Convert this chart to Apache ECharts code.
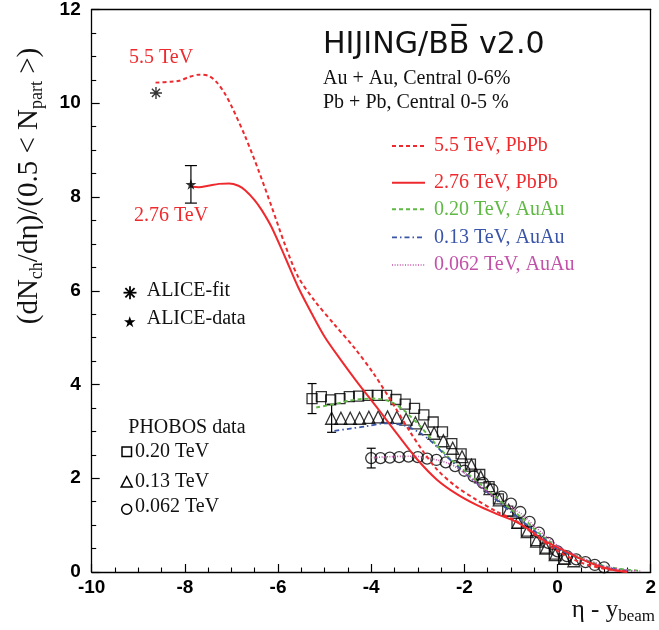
<!DOCTYPE html>
<html><head><meta charset="utf-8">
<script src="https://cdn.jsdelivr.net/npm/echarts@6/dist/echarts.min.js"></script>
<style>html,body{margin:0;padding:0;background:#fff}#c{width:659px;height:630px}</style>
</head><body><div id="c"></div>
<script>
// HIJING/BB̄ v2.0 predictions: [eta - y_beam, (dNch/deta)/(0.5<Npart>)]
const pbpb550 = [[-8.63,10.44],[-8.3,10.46],[-8.12,10.48],[-7.91,10.56],[-7.70,10.61],[-7.48,10.58],[-7.31,10.44],[-7.15,10.22],[-6.99,9.92],[-6.70,9.28],[-6.42,8.57],[-6.14,7.80],[-5.85,6.98],[-5.57,6.30],[-5.21,5.78],[-4.79,5.28],[-4.36,4.78],[-3.94,4.22],[-3.51,3.55],[-3.16,2.98],[-2.87,2.55],[-2.59,2.19],[-2.2,1.84],[-1.74,1.54],[-1.31,1.29],[-0.89,1.09],[-0.5,0.8],[0,0.45],[0.5,0.2],[1.0,0.07],[1.5,0.01]];
const pbpb276 = [[-7.86,8.22],[-7.7,8.21],[-7.5,8.24],[-7.27,8.28],[-7.05,8.29],[-6.85,8.24],[-6.70,8.14],[-6.5,7.93],[-6.35,7.72],[-6.14,7.36],[-5.85,6.72],[-5.57,6.08],[-5.28,5.52],[-5.0,5.02],[-4.65,4.52],[-4.33,4.09],[-3.87,3.50],[-3.44,2.94],[-3.01,2.40],[-2.59,1.97],[-2.16,1.66],[-1.74,1.43],[-1.31,1.24],[-0.89,1.07],[-0.60,0.90],[-0.3,0.68],[0.11,0.47],[0.5,0.28],[0.82,0.15],[1.17,0.05],[1.5,0.0]];
const auau200 = [[-5.18,3.51],[-4.8,3.58],[-4.5,3.65],[-4.2,3.69],[-3.94,3.70],[-3.58,3.63],[-3.30,3.45],[-2.94,3.10],[-2.59,2.70],[-2.31,2.42],[-1.88,2.06],[-1.45,1.70],[-1.03,1.36],[-0.67,1.08],[-0.39,0.82],[0.0,0.53],[0.32,0.37],[0.7,0.22],[1.03,0.12],[1.4,0.06],[1.73,0.03]];
const auau130 = [[-4.79,3.01],[-4.45,3.06],[-4.15,3.10],[-3.72,3.17],[-3.30,3.13],[-2.94,2.96],[-2.66,2.74],[-2.38,2.46],[-2.0,2.12],[-1.6,1.78],[-1.2,1.44],[-0.8,1.12],[-0.4,0.80],[0.0,0.50],[0.4,0.32],[0.8,0.17],[1.2,0.07],[1.6,0.02]];
const auau62 = [[-4.0,2.44],[-3.6,2.46],[-3.2,2.47],[-2.94,2.46],[-2.59,2.39],[-2.38,2.33],[-2.2,2.25],[-1.95,2.07],[-1.60,1.78],[-1.17,1.48],[-0.78,1.24],[-0.5,0.98],[-0.18,0.70],[0.1,0.50],[0.46,0.33],[0.75,0.22],[1.03,0.12],[1.4,0.05],[1.81,0.02]];

// PHOBOS measurements
const phobos200 = [[-5.27,3.70],[-5.07,3.74],[-4.87,3.67],[-4.67,3.70],[-4.47,3.74],[-4.27,3.75],[-4.07,3.77],[-3.87,3.77],[-3.67,3.77],[-3.47,3.68],[-3.27,3.58],[-3.07,3.49],[-2.87,3.35],[-2.67,3.20],[-2.47,2.99],[-2.27,2.74],[-2.07,2.52],[-1.87,2.30],[-1.67,2.08],[-1.47,1.82],[-1.27,1.56],[-1.07,1.30],[-0.87,1.04],[-0.67,0.87],[-0.47,0.67],[-0.27,0.51],[-0.07,0.38],[0.13,0.28]];
const phobos130 = [[-4.85,3.28],[-4.65,3.28],[-4.45,3.28],[-4.25,3.28],[-4.05,3.30],[-3.85,3.31],[-3.65,3.31],[-3.45,3.30],[-3.25,3.26],[-3.05,3.18],[-2.85,3.06],[-2.65,2.96],[-2.45,2.80],[-2.25,2.64],[-2.05,2.46],[-1.85,2.28],[-1.65,2.03],[-1.45,1.78],[-1.25,1.54],[-1.05,1.32],[-0.85,1.06],[-0.65,0.86],[-0.45,0.66],[-0.25,0.51],[-0.05,0.37],[0.15,0.29],[0.35,0.24]];
const phobos62 = [[-4.0,2.43],[-3.8,2.43],[-3.6,2.44],[-3.4,2.45],[-3.2,2.46],[-3.0,2.45],[-2.8,2.42],[-2.6,2.39],[-2.4,2.34],[-2.2,2.26],[-2.0,2.16],[-1.8,2.04],[-1.6,1.90],[-1.4,1.76],[-1.2,1.61],[-1.0,1.46],[-0.8,1.28],[-0.6,1.07],[-0.4,0.84],[-0.2,0.62],[0.0,0.44],[0.2,0.34],[0.4,0.27],[0.6,0.21],[0.8,0.15],[1.0,0.10]];

// ALICE
const aliceFit = [[-8.62,10.22]];
const aliceData = [[-7.87,8.27]];

// error bars: [x, y, half-width]
const errorBars = [[-5.27,3.70,0.32],[-4.85,3.28,0.30],[-4.0,2.43,0.21],[-7.87,8.27,0.40]];

const RED = '#ee2a2e', GREEN = '#5fb944', BLUE = '#3a55a8', MAGENTA = '#c251a9';
const SERIF = '"Liberation Serif", "DejaVu Serif", serif';
const SANS = '"Liberation Sans", Arial, sans-serif';

const STAR = 'path://M5,0L6.2,3.6L10,3.6L6.9,5.9L8.1,9.5L5,7.3L1.9,9.5L3.1,5.9L0,3.6L3.8,3.6Z';
const ASTER = 'path://M0,5L10,5M5,0L5,10M1.6,1.6L8.4,8.4M8.4,1.6L1.6,8.4';

const chart = echarts.init(document.getElementById('c'), null, {renderer: 'canvas'});

function curve(name, data, color, width, dash, z) {
  return {
    name, type: 'line', data, showSymbol: false, smooth: 0.3,
    lineStyle: {color, width, type: dash}, z, silent: true, animation: false
  };
}
function markers(name, data, symbol, size) {
  return {
    name, type: 'scatter', data, symbol, symbolSize: size, z: 3, silent: true, animation: false,
    itemStyle: {color: 'rgba(0,0,0,0)', borderColor: '#000', borderWidth: 1.3}
  };
}

const axisCommon = {
  axisLine: {onZero: false, lineStyle: {color: '#000', width: 1.3}},
  axisTick: {inside: true, length: 8, lineStyle: {color: '#000', width: 1.2}},
  minorTick: {show: true, splitNumber: 4, length: 4.5, lineStyle: {color: '#000', width: 1.1}},
  splitLine: {show: false},
  axisLabel: {color: '#000', fontFamily: SANS, fontWeight: 'bold', fontSize: 19}
};
const frameAxis = {
  axisLine: {show: true, onZero: false, lineStyle: {color: '#000', width: 1.3}},
  axisTick: {show: false}, axisLabel: {show: false}, splitLine: {show: false}
};

function legendLine(y, color, dash, width) {
  return {type: 'line', shape: {x1: 392, y1: y, x2: 425, y2: y},
    style: {stroke: color, lineWidth: width, lineDash: dash}};
}
function txt(x, y, text, color, size, extra) {
  return Object.assign({type: 'text', x, y,
    style: {text, fill: color, font: size + 'px ' + SERIF, textVerticalAlign: 'middle', textAlign: 'left'}}, extra || {});
}
function seg(x1, y1, x2, y2) {
  return {type: 'line', shape: {x1, y1, x2, y2}, style: {stroke: '#000', lineWidth: 1.8}};
}

chart.setOption({
  animation: false,
  grid: {left: 91.7, right: 3.3, top: 9.2, bottom: 58},
  xAxis: [
    Object.assign({type: 'value', min: -10, max: 2, interval: 2, position: 'bottom'}, axisCommon,
      {axisLabel: Object.assign({}, axisCommon.axisLabel, {margin: 6})}),
    Object.assign({type: 'value', min: -10, max: 2, position: 'top'}, frameAxis)
  ],
  yAxis: [
    Object.assign({type: 'value', min: 0, max: 12, interval: 2, position: 'left'}, axisCommon,
      {axisLabel: Object.assign({}, axisCommon.axisLabel, {margin: 11})}),
    Object.assign({type: 'value', min: 0, max: 12, position: 'right'}, frameAxis)
  ],
  series: [
    markers('PHOBOS 0.20 TeV', phobos200, 'rect', 10),
    markers('PHOBOS 0.13 TeV', phobos130, 'triangle', 12),
    markers('PHOBOS 0.062 TeV', phobos62, 'circle', 11),
    {
      name: 'errors', type: 'custom', data: errorBars, z: 3, silent: true, animation: false,
      renderItem(params, api) {
        const x = api.value(0), y = api.value(1), e = api.value(2);
        const t = api.coord([x, y + e]), b = api.coord([x, y - e]);
        const w = params.dataIndex === 3 ? 6 : 4.5;
        const st = {stroke: '#000', lineWidth: 1.2};
        return {type: 'group', children: [
          {type: 'line', shape: {x1: t[0], y1: t[1], x2: b[0], y2: b[1]}, style: st},
          {type: 'line', shape: {x1: t[0] - w, y1: t[1], x2: t[0] + w, y2: t[1]}, style: st},
          {type: 'line', shape: {x1: b[0] - w, y1: b[1], x2: b[0] + w, y2: b[1]}, style: st}
        ]};
      }
    },
    curve('5.5 TeV, PbPb', pbpb550, RED, 2, [4, 3], 5),
    curve('2.76 TeV, PbPb', pbpb276, RED, 2, 'solid', 5),
    curve('0.20 TeV, AuAu', auau200, GREEN, 1.9, [4, 3], 4),
    curve('0.13 TeV, AuAu', auau130, BLUE, 1.8, [5, 3, 1.5, 3], 4),
    curve('0.062 TeV, AuAu', auau62, MAGENTA, 1.6, [1, 1.6], 4),
    {name: 'ALICE-fit', type: 'scatter', data: aliceFit, symbol: ASTER, symbolSize: 12, z: 6, silent: true,
      itemStyle: {color: 'none', borderColor: '#000', borderWidth: 1.4}},
    {name: 'ALICE-data', type: 'scatter', data: aliceData, symbol: STAR, symbolSize: 11, z: 6, silent: true,
      itemStyle: {color: '#000'}}
  ],
  graphic: [
    {type: 'text', x: 323, y: 45, scaleX: 0.97,
      style: {text: 'HIJING/BB\u0305 v2.0', fill: '#111', font: '31px "DejaVu Sans", sans-serif', textVerticalAlign: 'middle'}},
    txt(323, 79, 'Au + Au, Central 0-6%', '#111', 20),
    txt(323, 103, 'Pb + Pb, Central 0-5 %', '#111', 20),

    legendLine(146, RED, [4, 3], 2),
    legendLine(182.7, RED, null, 2),
    legendLine(209.3, GREEN, [4, 3], 1.9),
    legendLine(237.3, BLUE, [5, 3, 1.5, 3], 1.8),
    legendLine(265, MAGENTA, [1, 1.6], 1.6),
    txt(434, 146, '5.5 TeV, PbPb', RED, 20),
    txt(434, 182.7, '2.76 TeV, PbPb', RED, 20),
    txt(434, 209.3, '0.20 TeV, AuAu', GREEN, 20),
    txt(434, 237.3, '0.13 TeV, AuAu', BLUE, 20),
    txt(434, 265, '0.062 TeV, AuAu', MAGENTA, 20),

    txt(129, 57.5, '5.5 TeV', RED, 20),
    txt(134, 215.5, '2.76 TeV', RED, 20),

    seg(123.5, 292.7, 136.5, 292.7), seg(130, 286.2, 130, 299.2),
    seg(125.4, 288.1, 134.6, 297.3), seg(134.6, 288.1, 125.4, 297.3),
    txt(146.7, 291, 'ALICE-fit', '#111', 20),
    {type: 'polygon', x: 124, y: 316.2, scaleX: 1.15, scaleY: 1.15,
      shape: {points: [[5,0],[6.2,3.6],[10,3.6],[6.9,5.9],[8.1,9.5],[5,7.3],[1.9,9.5],[3.1,5.9],[0,3.6],[3.8,3.6]]},
      style: {fill: '#000'}},
    txt(146.7, 318.7, 'ALICE-data', '#111', 20),

    txt(128.3, 427.5, 'PHOBOS data', '#111', 20),
    {type: 'rect', shape: {x: 122, y: 447, width: 9.5, height: 9.5}, style: {stroke: '#000', fill: 'none', lineWidth: 1.5}},
    txt(135, 451.7, '0.20 TeV', '#111', 20),
    {type: 'polygon', shape: {points: [[126.7, 476.5], [132.2, 487], [121.2, 487]]}, style: {stroke: '#000', fill: 'none', lineWidth: 1.5}},
    txt(135, 481.7, '0.13 TeV', '#111', 20),
    {type: 'circle', shape: {cx: 126.7, cy: 509.3, r: 5}, style: {stroke: '#000', fill: 'none', lineWidth: 1.5}},
    txt(135, 506.8, '0.062 TeV', '#111', 20),

    // axis titles
    {type: 'text', x: 29, y: 186, rotation: Math.PI / 2,
      style: {text: '{m|(dN}{s|ch}{m|/d\u03b7)/(0.5 < N}{s|part}{m| >)}', textAlign: 'center', textVerticalAlign: 'middle',
        rich: {m: {font: '29px ' + SERIF, fill: '#111', lineHeight: 34, verticalAlign: 'middle'},
               s: {font: '18px ' + SERIF, fill: '#111', lineHeight: 18, verticalAlign: 'bottom'}}}},
    {type: 'text', x: 655, y: 610,
      style: {text: '{m|\u03b7 - y}{s|beam}', textAlign: 'right', textVerticalAlign: 'middle',
        rich: {m: {font: '25px ' + SERIF, fill: '#111', lineHeight: 30, verticalAlign: 'middle'},
               s: {font: '17px ' + SERIF, fill: '#111', lineHeight: 17, verticalAlign: 'bottom'}}}}
  ]
});
</script></body></html>
